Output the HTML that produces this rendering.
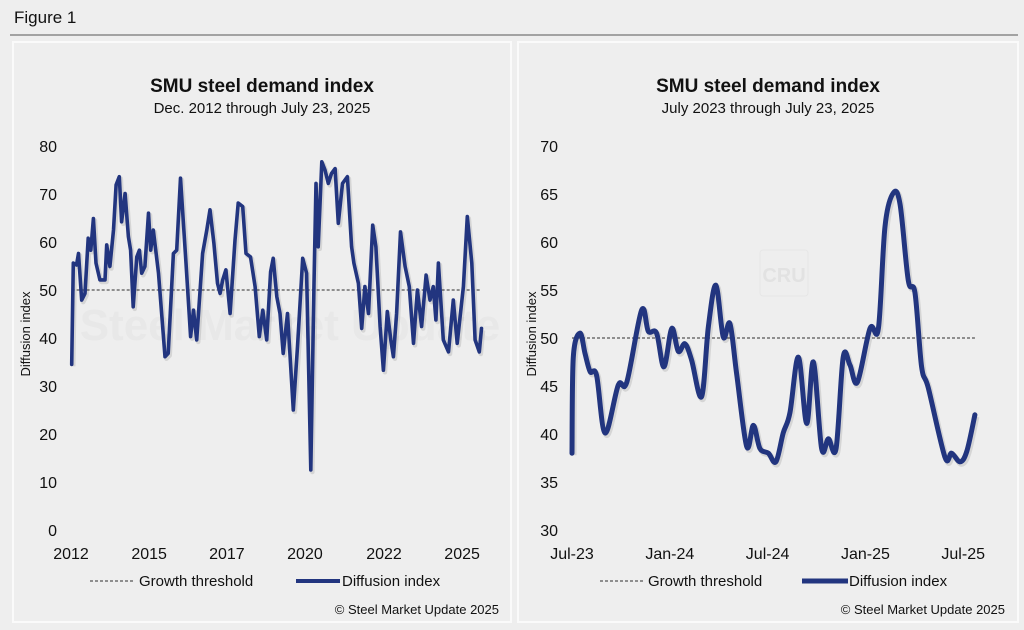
<!DOCTYPE html>
<html><head><meta charset="utf-8">
<style>
body{margin:0;width:1024px;height:630px;background:#eeeeee;overflow:hidden;font-family:"Liberation Sans",Arial,sans-serif;}
svg{position:absolute;left:0;top:0}
</style></head>
<body>
<svg id="fig" width="1024" height="630">
  <rect x="0" y="0" width="1024" height="630" fill="#eeeeee"/>
  <text x="14" y="23" font-size="17" fill="#111">Figure 1</text>
  <line x1="10" y1="35" x2="1018" y2="35" stroke="#555" stroke-width="1"/>
  <rect x="13" y="42" width="498" height="580" fill="#eeeeee" stroke="#fafafa" stroke-width="2"/>
  <rect x="518" y="42" width="500" height="580" fill="#eeeeee" stroke="#fafafa" stroke-width="2"/>
  <text x="262" y="92" text-anchor="middle" font-size="19" font-weight="bold" fill="#111">SMU steel demand index</text>
  <text x="262" y="113" text-anchor="middle" font-size="15" fill="#111">Dec. 2012 through July 23, 2025</text>
  <text x="768" y="92" text-anchor="middle" font-size="19" font-weight="bold" fill="#111">SMU steel demand index</text>
  <text x="768" y="113" text-anchor="middle" font-size="15" fill="#111">July 2023 through July 23, 2025</text>
  <text x="22" y="330" transform="rotate(-90 28 328)" text-anchor="middle" font-size="13" fill="#111">Diffusion index</text>
  <text x="528" y="330" transform="rotate(-90 534 328)" text-anchor="middle" font-size="13" fill="#111">Diffusion index</text>
  <text x="290" y="340" font-size="44" font-weight="bold" fill="#e8e8e8" text-anchor="middle">Steel Market Update</text>
  <rect x="760" y="250" width="48" height="46" rx="3" fill="none" stroke="#e6e6e6"/>
  <text x="784" y="282" text-anchor="middle" font-size="20" font-weight="bold" fill="#e2e2e2">CRU</text>
  <g id="left"></g>
  <g id="right"></g>
  <line x1="90" y1="581" x2="135" y2="581" stroke="#555" stroke-width="1.3" stroke-dasharray="3,2"/>
  <text x="139" y="586" font-size="15" fill="#111">Growth threshold</text>
  <line x1="296" y1="581" x2="340" y2="581" stroke="#22357f" stroke-width="4"/>
  <text x="342" y="586" font-size="15" fill="#111">Diffusion index</text>
  <text x="499" y="614" text-anchor="end" font-size="13" fill="#111">© Steel Market Update 2025</text>
  <line x1="600" y1="581" x2="645" y2="581" stroke="#555" stroke-width="1.3" stroke-dasharray="3,2"/>
  <text x="648" y="586" font-size="15" fill="#111">Growth threshold</text>
  <line x1="802" y1="581" x2="848" y2="581" stroke="#22357f" stroke-width="5"/>
  <text x="849" y="586" font-size="15" fill="#111">Diffusion index</text>
  <text x="1005" y="614" text-anchor="end" font-size="13" fill="#111">© Steel Market Update 2025</text>
</svg>
<script>
const leftDates = [
2012.91,2012.96,2013.06,2013.12,2013.22,2013.32,2013.42,2013.50,2013.58,2013.66,
2013.78,2013.94,2013.99,2014.09,2014.20,2014.28,2014.38,2014.45,2014.56,2014.66,
2014.73,2014.81,2014.92,2015.00,2015.07,2015.17,2015.28,2015.35,2015.43,2015.59,
2015.79,2015.89,2016.05,2016.15,2016.27,2016.44,2016.58,2016.67,2016.77,2016.95,
2017.08,2017.18,2017.30,2017.41,2017.49,2017.57,2017.67,2017.80,2017.95,2018.05,
2018.19,2018.29,2018.43,2018.57,2018.70,2018.81,2018.93,2019.05,2019.13,2019.24,
2019.34,2019.44,2019.57,2019.75,2019.88,2020.04,2020.16,2020.29,2020.39,2020.45,
2020.52,2020.63,2020.73,2020.83,2020.93,2021.04,2021.14,2021.27,2021.42,2021.55,
2021.62,2021.76,2021.86,2021.96,2022.07,2022.20,2022.30,2022.43,2022.53,2022.65,
2022.76,2022.84,2022.94,2023.06,2023.20,2023.33,2023.46,2023.58,2023.71,2023.85,
2023.97,2024.07,2024.15,2024.23,2024.38,2024.54,2024.69,2024.81,2025.00,2025.12,
2025.26,2025.36,2025.49,2025.56];
const leftValues = [
34.5,55.6,55.2,57.6,47.9,49.3,60.8,58.3,64.9,55.6,
52.1,52.1,59.4,54.9,62.5,71.9,73.6,64.2,70.1,61.1,
58.3,46.5,56.9,58.3,53.5,54.9,66.0,58.3,62.5,53.5,
36.1,36.8,57.6,58.3,73.3,55.6,40.3,45.8,39.6,57.6,
62.5,66.7,59.7,51.4,49.3,52.1,54.2,45.1,60.4,68.1,
67.4,57.6,56.9,50.7,40.3,45.8,39.6,53.8,56.6,48.6,
45.1,36.8,45.1,25.0,38.2,56.6,53.5,12.5,51.4,72.2,
59.0,76.7,75.0,72.2,74.3,75.3,63.9,72.2,73.6,59.0,
55.6,51.4,42.0,50.7,45.1,63.5,59.0,42.4,33.3,45.5,
39.6,36.1,45.1,62.1,54.9,50.7,38.9,50.0,42.4,53.1,
47.9,50.7,43.75,55.6,39.6,37.1,47.9,38.9,50.7,65.3,
55.6,39.6,37.1,42.0];
const leftYTicks = [0,10,20,30,40,50,60,70,80];
const leftXTickLabels = ["2012","2015","2017","2020","2022","2025"];
const leftXTickAt = [2012.89,2015.30,2017.70,2020.11,2022.55,2024.96];
const leftThreshold = 50;

const rightMonths = [0,0.08,0.49,0.80,1.11,1.51,2.03,2.84,3.36,4.27,4.68,5.19,5.64,6.12,6.52,6.93,7.34,7.95,8.37,8.83,9.28,9.69,10.10,10.72,11.13,11.53,12.05,12.51,12.96,13.37,13.89,14.40,14.81,15.31,15.73,16.20,16.64,17.05,17.51,18.28,18.80,19.20,19.71,20.13,20.63,21.04,21.45,21.86,22.88,23.29,23.81,24.22,24.72];
const rightValues = [38.0,48.0,50.5,48.4,46.5,46.1,40.1,45.1,45.4,52.9,50.7,50.5,47.0,51.0,48.6,49.4,47.7,43.9,51.2,55.5,50.1,51.5,46.3,38.7,40.9,38.5,38.0,37.1,40.1,42.2,48.0,41.1,47.5,38.5,39.5,38.5,48.0,47.2,45.4,51.0,51.0,61.6,65.1,63.9,56.0,54.7,47.0,44.8,37.6,38.0,37.1,38.2,42.0];
const rightYTicks = [30,35,40,45,50,55,60,65,70];
const rightXTickLabels = ["Jul-23","Jan-24","Jul-24","Jan-25","Jul-25"];
const rightXTickAt = [0,6,12,18,24];
const rightThreshold = 50;

const NS="http://www.w3.org/2000/svg";
function mk(tag,attrs,parent){const e=document.createElementNS(NS,tag);for(const k in attrs)e.setAttribute(k,attrs[k]);parent.appendChild(e);return e;}

const lx = d => 72 + (d-2012.92)*32.4;
const ly = v => 530 - v*4.8;
const rx = m => 572 + m*16.3;
const ry = v => 530 - (v-30)*9.6;

function linePath(pts){return "M"+pts.map(p=>p[0].toFixed(1)+","+p[1].toFixed(1)).join(" L");}
function smoothPath(pts){
  let d="M"+pts[0][0].toFixed(1)+","+pts[0][1].toFixed(1);
  for(let i=0;i<pts.length-1;i++){
    const p0=pts[Math.max(0,i-1)],p1=pts[i],p2=pts[i+1],p3=pts[Math.min(pts.length-1,i+2)];
    const c1=[p1[0]+(p2[0]-p0[0])/6,p1[1]+(p2[1]-p0[1])/6];
    const c2=[p2[0]-(p3[0]-p1[0])/6,p2[1]-(p3[1]-p1[1])/6];
    d+=" C"+c1[0].toFixed(1)+","+c1[1].toFixed(1)+" "+c2[0].toFixed(1)+","+c2[1].toFixed(1)+" "+p2[0].toFixed(1)+","+p2[1].toFixed(1);
  }
  return d;
}

function drawChart(g, dates, vals, yt, xl, xa, thr, sx, sy, yLabelX, lw, side, smooth){
  yt.forEach(v=>{
    const t=mk("text",{x:yLabelX,y:sy(v)+6,"text-anchor":"end","font-size":"16",fill:"#111"},g);
    t.textContent=v;
    
    
  });
  xl.forEach((lab,i)=>{
    const t=mk("text",{x:sx(xa[i]),y:559,"text-anchor":"middle","font-size":"16",fill:"#111"},g);
    t.textContent=lab;
    
    
  });
  const th=mk("line",{x1:sx(dates[0]),x2:sx(dates[dates.length-1]),y1:sy(thr),y2:sy(thr),stroke:"#555","stroke-width":"1.3","stroke-dasharray":"3,2"},g);
  
  
  const pts=dates.map((d,i)=>[sx(d),sy(vals[i])]);
  const dp = smooth ? smoothPath(pts) : linePath(pts);
  const sh=mk("path",{d:dp,fill:"none",stroke:"#000","stroke-opacity":"0.1","stroke-width":lw+1,"stroke-linejoin":"round",transform:"translate(1.5,2)"},g);
  
  
  const p=mk("path",{d:dp,fill:"none",stroke:"#22357f","stroke-width":lw,"stroke-linejoin":"round","stroke-linecap":"round"},g);
  
  
}
drawChart(document.getElementById("left"),leftDates,leftValues,leftYTicks,leftXTickLabels,leftXTickAt,leftThreshold,lx,ly,57,3.6,"left",false);
drawChart(document.getElementById("right"),rightMonths,rightValues,rightYTicks,rightXTickLabels,rightXTickAt,rightThreshold,rx,ry,558,5,"right",true);
</script>
</body></html>
